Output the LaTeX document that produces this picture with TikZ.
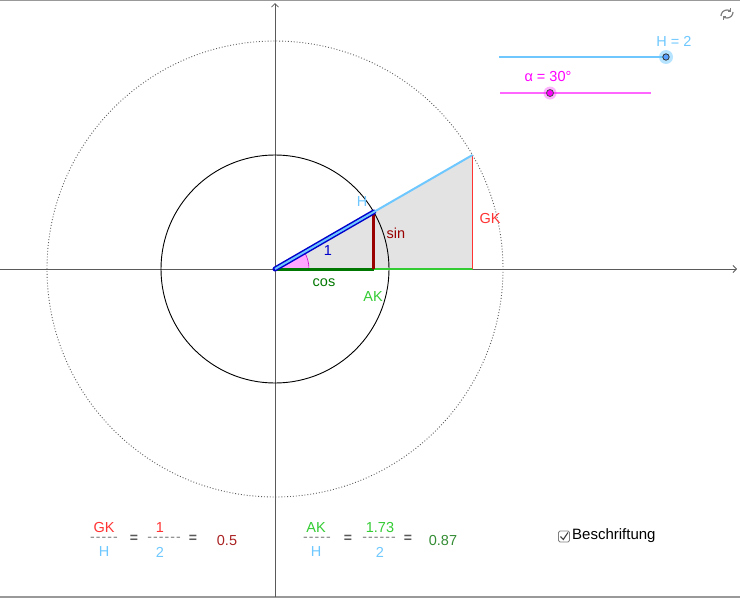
\documentclass[tikz,border=0pt]{standalone}
\usepackage{fontspec}
\setmainfont{Liberation Sans}
\usetikzlibrary{arrows.meta}
\definecolor{hblue}{RGB}{110,200,255}
\definecolor{gkred}{RGB}{255,51,51}
\definecolor{sinred}{RGB}{153,0,0}
\definecolor{akgreen}{RGB}{51,204,51}
\definecolor{cosgreen}{RGB}{0,119,0}
\definecolor{mag}{RGB}{255,0,255}
\definecolor{axisgray}{RGB}{90,90,90}
\definecolor{oneblue}{RGB}{0,0,204}
\definecolor{res1}{RGB}{170,34,34}
\definecolor{res2}{RGB}{51,140,51}
\newcommand{\dk}{\mbox{-}\kern1.1pt}
\newcommand{\dsfive}{\dk\dk\dk\dk\mbox{-}}
\newcommand{\dssix}{\dk\dk\dk\dk\dk\mbox{-}}
\begin{document}
\begin{tikzpicture}[x=1pt,y=-1pt,
  lbl/.style={inner sep=0pt,font=\fontsize{14.5}{16}\selectfont},
  eq/.style={inner sep=0pt,text=black!65,font=\fontsize{14}{16}\selectfont\bfseries},
  dsh/.style={inner sep=0pt,text=gray,font=\fontsize{14}{14}\selectfont},
  axisline/.style={axisgray,line width=0.8pt,-{Straight Barb[length=3.5pt,width=7pt]}},
  frame/.style={gray!80,line width=1.2pt}]
\useasboundingbox (0,0) rectangle (740,600);
% frame lines
\draw[frame] (0,0.6) -- (740,0.6);
\draw[frame] (0,597) -- (740,597);
% coordinates
\coordinate (O) at (275,269);
\coordinate (P1) at (373.7,212);
\coordinate (F1) at (373.7,269);
\coordinate (P2) at (472.5,155);
\coordinate (F2) at (472.5,269);
\coordinate (xs) at (0,269);
\coordinate (xe) at (737,269);
\coordinate (ys) at (275,597);
\coordinate (ye) at (275,3);
% shaded triangle
\fill[gray!22] (O) -- (F2) -- (P2) -- cycle;
% angle sector
\filldraw[fill=mag!35,draw=mag!60!violet,line width=0.6pt] (O) -- ++(34,0) arc[start angle=0,end angle=-30,radius=34] -- cycle;
% axes
\draw[axisline] (xs) -- (xe);
\draw[axisline] (ys) -- (ye);
% circles
\draw[black,line width=0.9pt] (O) circle[radius=114];
\draw[axisgray,line width=0.9pt,dotted] (O) circle[radius=228];
% AK and GK
\draw[akgreen,line width=1.6pt] (O) -- (F2);
\draw[gkred,line width=1.6pt] (F2) -- (P2);
% cos, sin
\draw[cosgreen,line width=3pt] (O) -- (F1);
\draw[sinred,line width=3.5pt] (F1) -- (P1);
% 1 and H
\draw[oneblue,line width=5pt,line cap=round] (O) -- (P1);
\draw[hblue,line width=2pt] (O) -- (P2);
% labels
\node[lbl,text=hblue] (lH) at (362,202) {H};
\node[lbl,text=sinred] (lsin) at (396,233) {sin};
\node[lbl,text=gkred] (lGK) at (490,219) {GK};
\node[lbl,text=oneblue] (l1) at (328,251) {1};
\node[lbl,text=cosgreen] (lcos) at (324,283) {cos};
\node[lbl,text=akgreen] (lAK) at (373,297) {AK};
% sliders
\draw[hblue,line width=1.2pt] (499,57) -- (666,57);
\fill[hblue,opacity=0.5] (666,57) circle[radius=7];
\filldraw[fill=hblue!80!blue,draw=black!80,line width=0.8pt] (666,57) circle[radius=3.2];
\node[lbl,text=hblue] (sH) at (674,41) {H = 2};
\draw[mag!60,line width=1.2pt] (500,93) -- (651,93);
\fill[mag,opacity=0.3] (550,93) circle[radius=6.5];
\filldraw[fill=mag,draw=black!70,line width=0.8pt] (550,93) circle[radius=3.5];
\node[lbl,text=mag] (sa) at (548,77) {α = 30°};
% reset icon
\draw[gray,line width=1.2pt,-{Straight Barb[length=2pt,width=4pt]}] (733,12) arc[start angle=0,end angle=135,radius=6];
\draw[gray,line width=1.2pt,-{Straight Barb[length=2pt,width=4pt]}] (721,16) arc[start angle=180,end angle=315,radius=6];
% formulas
\node[lbl,text=gkred] (f1a) at (104,528) {GK};
\node[dsh] (f1b) at (104,539) {\dsfive};
\node[lbl,text=hblue] (f1c) at (104,552) {H};
\node[eq] (f1d) at (134,539) {=};
\node[lbl,text=gkred] (f1e) at (160,528) {1};
\node[dsh] (f1f) at (164,539) {\dssix};
\node[lbl,text=hblue] (f1g) at (160,552) {2};
\node[eq] (f1h) at (193,539) {=};
\node[lbl,text=res1] (f1i) at (227,541) {0.5};
\node[lbl,text=akgreen] (f2a) at (316,528) {AK};
\node[dsh] (f2b) at (317,539) {\dsfive};
\node[lbl,text=hblue] (f2c) at (316,552) {H};
\node[eq] (f2d) at (348,539) {=};
\node[lbl,text=akgreen] (f2e) at (380,528) {1.73};
\node[dsh] (f2f) at (379,539) {\dssix};
\node[lbl,text=hblue] (f2g) at (380,552) {2};
\node[eq] (f2h) at (408,539) {=};
\node[lbl,text=res2] (f2i) at (443,541) {0.87};
% checkbox
\draw[gray,line width=0.8pt,rounded corners=1.5pt] (558.5,531) rectangle (569.5,542);
\draw[black!75,line width=1.1pt] (560.5,536.5) -- (563.3,539.5) -- (568,532.5);
\node[inner sep=0pt,anchor=west,font=\fontsize{15}{17}\selectfont] (cb) at (572,536) {Beschriftung};
\end{tikzpicture}
\end{document}
